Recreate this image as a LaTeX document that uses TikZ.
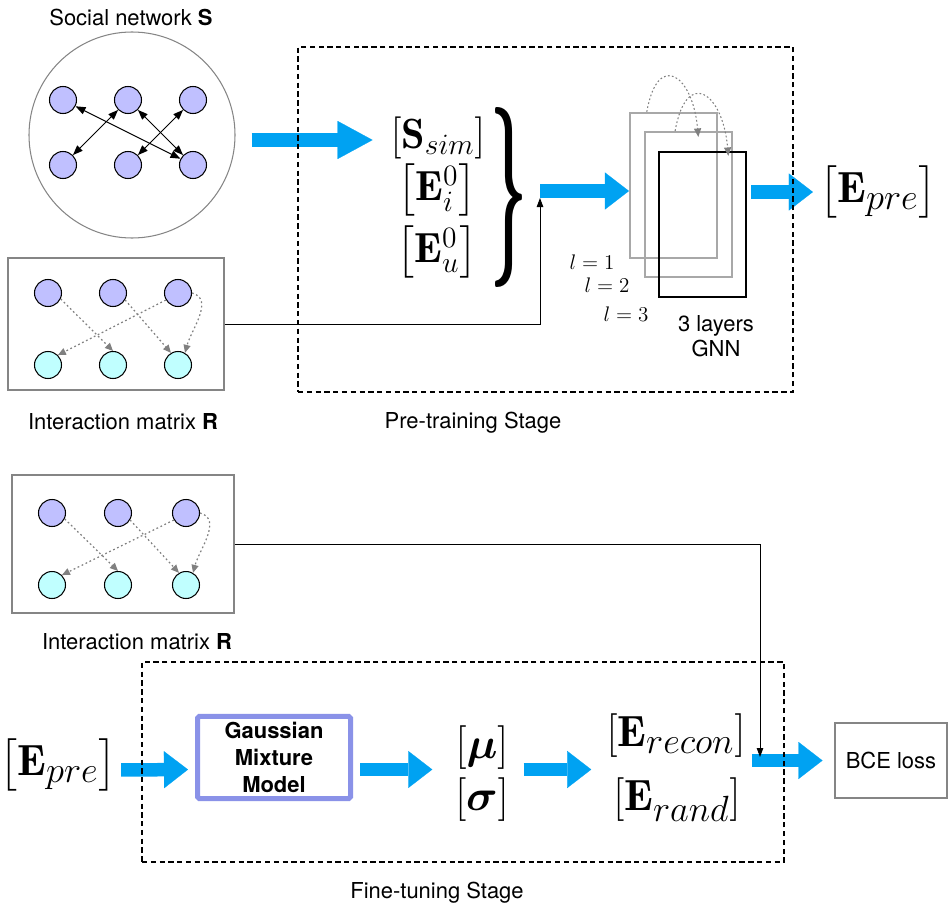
\RequirePackage{fix-cm}
\documentclass[tikz,border=0pt]{standalone}
\usepackage{amsmath}
\usepackage{fontspec}
\setsansfont{TeX Gyre Heros}
\usepackage{xcolor}
\definecolor{NetPurple}{HTML}{C0C0FF}
\definecolor{NetCyan}{HTML}{C0FFFF}
\definecolor{FlowBlue}{HTML}{00A2F2}
\definecolor{GmmBorder}{HTML}{8A92E8}
\definecolor{LayerGray}{HTML}{A8A8A8}
\definecolor{FrameGray}{HTML}{858585}
\usepackage{tikz}
\usetikzlibrary{positioning,arrows.meta,calc}
\tikzset{
  user/.style={circle,draw=black,fill=NetPurple,minimum size=5.4mm,inner sep=0pt,line width=0.6pt},
  item/.style={circle,draw=black,fill=NetCyan,minimum size=5.4mm,inner sep=0pt,line width=0.6pt},
  matbox/.style={draw=FrameGray,line width=0.6pt,inner sep=0pt},
  caption/.style={font=\sffamily\fontsize{12.5}{14.5}\selectfont,inner sep=0pt,align=center},
  eqn/.style={font=\fontsize{24.88}{28}\selectfont,inner sep=0pt},
  stackeqn/.style={font=\fontsize{24}{28}\selectfont,inner sep=0pt},
  layerlabel/.style={font=\fontsize{12}{14}\selectfont,inner sep=0pt},
  layer/.style={draw=LayerGray,line width=1.2pt,minimum width=17.4mm,minimum height=29mm,inner sep=0pt},
  gmmbox/.style={draw=GmmBorder,line width=1mm,rounded corners=1pt,minimum width=30.6mm,minimum height=14.8mm,align=center,font=\sffamily\bfseries\fontsize{12.5}{15.3}\selectfont},
  lossbox/.style={draw=FrameGray,line width=0.6pt,minimum width=22.4mm,minimum height=15mm,font=\sffamily\fontsize{12.5}{14.5}\selectfont},
  stagebox/.style={draw=black,dash pattern=on 3pt off 2pt,line width=0.6pt,inner sep=0pt},
  tie/.style={{Triangle[length=2mm,width=1.5mm]}-{Triangle[length=2mm,width=1.5mm]},line width=0.6pt},
  click/.style={-{Triangle[length=1.6mm,width=1.4mm]},draw=gray,dash pattern=on 1pt off 1.5pt,line width=0.7pt},
  hop/.style={-{Triangle[length=1.7mm,width=1.4mm]},draw=gray,dash pattern=on 1pt off 1.3pt,line width=0.6pt},
  feed/.style={-{Triangle[length=1.8mm,width=1.3mm]},draw=black,line width=0.5pt},
  flow/.style={-{Triangle[length=4.8mm,width=7.4mm,line width=0.1pt]},draw=FlowBlue,line width=2.7mm},
  bigflow/.style={-{Triangle[length=7mm,width=7.6mm,line width=0.1pt]},draw=FlowBlue,line width=2.8mm}
}

\begin{document}
\begin{tikzpicture}[x=0.2mm,y=-0.2mm]
  \useasboundingbox (0,0) rectangle (948,912);
  \node[caption] (snlabel) at (131,17) {Social network \textbf{S}};
  \node[circle,draw=FrameGray,line width=0.6pt,minimum size=41.2mm,inner sep=0pt] (snet) at (132,135) {};
  \node[user] (su1) at (63,100) {};
  \node[user] (su2) at (128,100) {};
  \node[user] (su3) at (193,100) {};
  \node[user] (su4) at (63,165) {};
  \node[user] (su5) at (128,165) {};
  \node[user] (su6) at (193,165) {};
  \draw[tie] (su1) -- (su6);
  \draw[tie] (su2) -- (su4);
  \draw[tie] (su2) -- (su6);
  \draw[tie] (su3) -- (su5);

  \node[matbox,minimum width=43.2mm,minimum height=26.4mm] (imat) at (116,324) {};
  \node[user] (iu1) at (48,293) {};
  \node[user] (iu2) at (113,293) {};
  \node[user] (iu3) at (178,293) {};
  \node[item] (ii1) at (48,365) {};
  \node[item] (ii2) at (113,365) {};
  \node[item] (ii3) at (178,365) {};
  \draw[click] (iu1.-25) -- (ii2.north);
  \draw[click] (iu2.-30) -- (ii3.120);
  \draw[click] (iu3.-150) -- (ii1.45);
  \draw[click] (iu3.east) to[out=-15,in=75] (ii3.60);
  \node[caption] (imatlabel) at (123,422) {Interaction matrix \textbf{R}};

  \node[stackeqn] (ssim) at (438,138) {$[\mathbf{S}_{sim}]$};
  \node[stackeqn] (eitem) at (437,190) {$\left[\mathbf{E}_i^0\right]$};
  \node[stackeqn] (euser) at (437,252) {$\left[\mathbf{E}_u^0\right]$};
  \node[inner sep=0pt] (brace) at (509,197) {\resizebox{7.4mm}{27mm}{\bfseries\}}};
  \coordinate (mix) at (540,191);
  \coordinate (mixin) at (540,198);
  \node[layer] (layer1) at (673.5,185.5) {};
  \node[layer] (layer2) at (688.5,204.5) {};
  \node[layer,draw=black] (layer3) at (702.5,224.5) {};
  \draw[hop] ($(layer1.north west)!0.2!(layer1.north east)$) to[out=80,in=95,looseness=2.8] ($(layer2.north west)!0.61!(layer2.north east)+(0,6)$);
  \draw[hop] ($(layer2.north west)!0.35!(layer2.north east)$) to[out=80,in=95,looseness=2.8] ($(layer3.north west)!0.79!(layer3.north east)+(0,5)$);
  \node[layerlabel] (lone) at (592,262) {$l=1$};
  \node[layerlabel] (ltwo) at (607,285) {$l=2$};
  \node[layerlabel] (lthree) at (626,314) {$l=3$};
  \node[caption] (gnnlabel) at (716,336) {3 layers\\GNN};
  \node[eqn] (epre) at (878,192) {$\left[\mathbf{E}_{pre}\right]$};
  \draw[bigflow,shorten <=3.2mm,shorten >=3.6mm] ([yshift=-1mm]snet.east) -- ([yshift=-1mm]snet.east -| ssim.west);
  \draw[flow] (mix) -- (mix -| layer1.west);
  \draw[flow,shorten <=0.8mm,shorten >=1.2mm] (layer3.east |- epre) -- (epre.west);
  \draw[feed] (imat.east) -| (mixin);
  \node[stagebox,minimum width=99mm,minimum height=69mm] (pretrain) at (545.5,219.5) {};
  \node[caption] (pretrainlabel) at (473,423) {Pre-training Stage};

  \node[matbox,minimum width=44.4mm,minimum height=27.6mm] (imatft) at (123,544) {};
  \node[user] (fu1) at (52,513) {};
  \node[user] (fu2) at (118,513) {};
  \node[user] (fu3) at (186,513) {};
  \node[item] (fi1) at (52,585) {};
  \node[item] (fi2) at (118,585) {};
  \node[item] (fi3) at (186,585) {};
  \draw[click] (fu1.-25) -- (fi2.north);
  \draw[click] (fu2.-30) -- (fi3.120);
  \draw[click] (fu3.-150) -- (fi1.45);
  \draw[click] (fu3.east) to[out=-15,in=75] (fi3.60);
  \node[caption] (imatftlabel) at (137,642) {Interaction matrix \textbf{R}};

  \node[eqn] (epreft) at (58,765) {$\left[\mathbf{E}_{pre}\right]$};
  \node[gmmbox] (gmm) at (274,757.5) {Gaussian\\Mixture\\Model};
  \node[eqn] (mu) at (482,748) {$\left[\boldsymbol{\mu}\right]$};
  \node[eqn] (sigma) at (482,800) {$\left[\boldsymbol{\sigma}\right]$};
  \node[eqn] (erecon) at (676,736) {$\left[\mathbf{E}_{recon}\right]$};
  \node[eqn] (erand) at (677,800) {$\left[\mathbf{E}_{rand}\right]$};
  \node[lossbox] (bce) at (891,760.5) {BCE loss};
  \coordinate (lossin) at (760,757);
  \draw[flow,shorten <=0.8mm,shorten >=1.4mm] ([yshift=-1mm]epreft.east) -- ([yshift=-2.4mm]gmm.west);
  \draw[flow,shorten <=1.4mm,shorten >=4.6mm] ([yshift=-2.4mm]gmm.east) -- ([yshift=-2.4mm]gmm.east -| mu.west);
  \draw[flow,shorten <=3mm,shorten >=3mm] ([yshift=-2.4mm]gmm.east -| mu.east) -- ([yshift=-2.4mm]gmm.east -| erecon.west);
  \draw[flow,shorten <=1.2mm,shorten >=2.4mm] (bce.west -| erecon.east) -- (bce.west);
  \draw[feed] (imatft.east) -| (lossin);
  \node[stagebox,minimum width=128.4mm,minimum height=40mm] (finetune) at (463,762) {};
  \node[caption] (finetunelabel) at (437,893) {Fine-tuning Stage};
\end{tikzpicture}
\end{document}
